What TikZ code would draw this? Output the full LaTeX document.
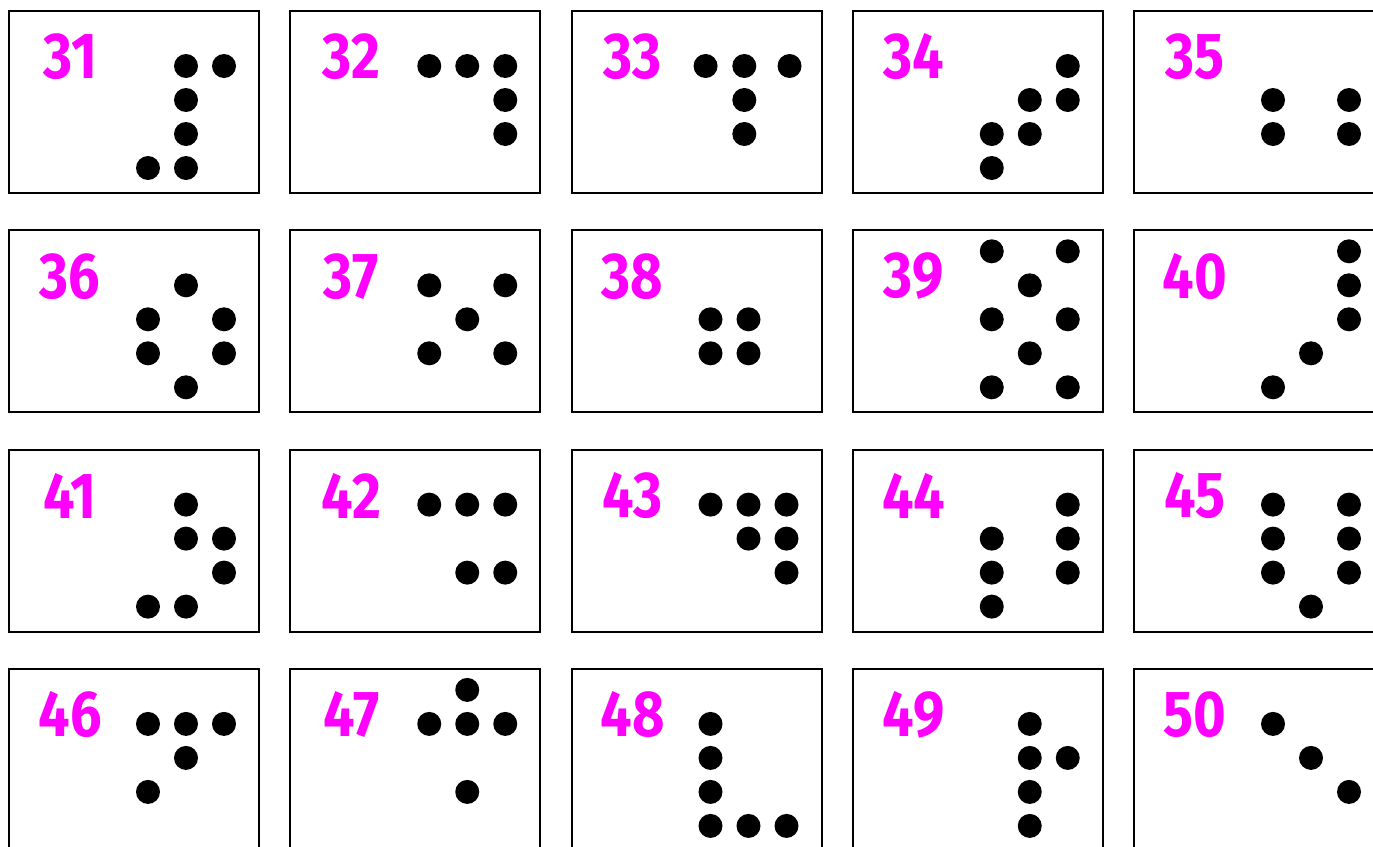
\documentclass[tikz,border=0pt]{standalone}
\usepackage{fontspec}
\setmainfont{Fira Sans}
\definecolor{cardpink}{RGB}{255,0,255}
\begin{document}
\begin{tikzpicture}[x=1pt,y=-1pt,
        % Marco de cada tarjeta
        card/.style={draw=black, line width=2pt, minimum width=250pt, minimum height=182pt,
                     inner sep=0pt, outer sep=0pt, anchor=north west},
        % Numero de la tarjeta en magenta
        num/.style={text=cardpink, font=\fontsize{65}{65}\selectfont\bfseries, xscale=0.86, inner sep=0pt},
        % Puntos negros
        dot/.style={circle, fill=black, minimum size=24pt, inner sep=0pt}
    ]
    \useasboundingbox (0,0) rectangle (1373,846);
    \clip (0,0) rectangle (1373,846);

    % numero / columna / fila / puntos (columna/fila de la rejilla)
    \foreach \n/\i/\j/\pts in {
        31/0/0/{1/0,2/0,1/1,1/2,0/3,1/3},
        32/1/0/{0/0,1/0,2/0,2/1,2/2},
        33/2/0/{-0.13/0,0.89/0,2.08/0,0.89/1,0.89/2},
        34/3/0/{2/0,1/1,2/1,0/2,1/2,0/3},
        35/4/0/{0/1,2/1,0/2,2/2},
        36/0/1/{1/0,0/1,2/1,0/2,2/2,1/3},
        37/1/1/{0/0,2/0,1/1,0/2,2/2},
        38/2/1/{0/1,1/1,0/2,1/2},
        39/3/1/{0/-1,2/-1,1/0,0/1,2/1,1/2,0/3,2/3},
        40/4/1/{2/-1,2/0,2/1,1/2,0/3},
        41/0/2/{1/0,1/1,2/1,2/2,0/3,1/3},
        42/1/2/{0/0,1/0,2/0,1/2,2/2},
        43/2/2/{0/0,1/0,2/0,1/1,2/1,2/2},
        44/3/2/{2/0,0/1,2/1,0/2,2/2,0/3},
        45/4/2/{0/0,2/0,0/1,2/1,0/2,2/2,1/3},
        46/0/3/{0/0,1/0,2/0,1/1,0/2},
        47/1/3/{1/-1,0/0,1/0,2/0,1/2},
        48/2/3/{0/0,0/1,0/2,0/3,1/3,2/3},
        49/3/3/{1/0,1/1,2/1,1/2,1/3},
        50/4/3/{0/0,1/1,2/2}}{
        \node[card] (b\n) at ({9+281.25*\i},{11+219.3*\j}) {};
        \node[num] (n\n) at ([shift={(61,46)}]b\n.north west) {\n};
        \foreach \c/\r [count=\k] in \pts
            \node[dot] (d\n-\k) at ([shift={({139+38*\c},{55+34*\r})}]b\n.north west) {};
    }

\end{tikzpicture}
\end{document}
